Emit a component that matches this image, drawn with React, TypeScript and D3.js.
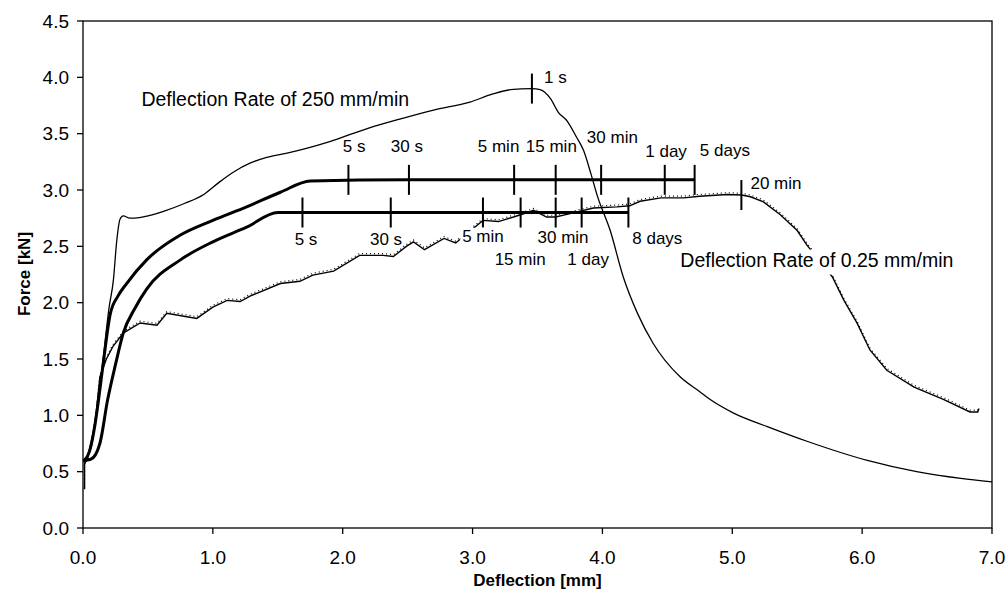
import React from 'react';
import * as d3 from 'd3';

// Deflection [mm], Force [kN]
const fastRate: [number, number][] = [
  [0.01, 0.56], [0.05, 0.7], [0.1, 1.0], [0.15, 1.45], [0.2, 1.95], [0.234, 2.2], [0.26, 2.55],
  [0.285, 2.74], [0.31, 2.77], [0.36, 2.75], [0.4, 2.75], [0.5, 2.77], [0.62, 2.81], [0.78, 2.88],
  [0.93, 2.96], [1.05, 3.07], [1.16, 3.16], [1.29, 3.24], [1.415, 3.29], [1.58, 3.33], [1.72, 3.37],
  [1.9, 3.43], [2.2, 3.55], [2.44, 3.63], [2.7, 3.71], [2.98, 3.78], [3.15, 3.85], [3.29, 3.89],
  [3.457, 3.9], [3.52, 3.89], [3.6, 3.81], [3.66, 3.69], [3.73, 3.61], [3.8, 3.47], [3.855, 3.35],
  [3.91, 3.15], [3.96, 2.95], [4.06, 2.64], [4.16, 2.23], [4.27, 1.905], [4.39, 1.64], [4.6, 1.34],
  [4.75, 1.21], [4.83, 1.14], [5.01, 1.02], [5.27, 0.9], [5.575, 0.77], [6.04, 0.6], [6.42, 0.5],
  [6.76, 0.44], [7.0, 0.41],
];

const slowRate: [number, number][] = [
  [0.005, 0.35], [0.012, 0.35], [0.012, 0.58], [0.03, 0.6], [0.07, 0.75], [0.1, 1.0], [0.13, 1.34],
  [0.18, 1.5], [0.23, 1.61], [0.31, 1.73], [0.44, 1.82], [0.57, 1.8], [0.645, 1.905], [0.8, 1.875],
  [0.876, 1.86], [1.0, 1.96], [1.11, 2.02], [1.21, 2.01], [1.29, 2.06], [1.52, 2.17], [1.67, 2.19],
  [1.77, 2.245], [1.93, 2.28], [2.13, 2.42], [2.31, 2.42], [2.39, 2.41], [2.49, 2.5], [2.545, 2.54],
  [2.63, 2.47], [2.78, 2.57], [2.87, 2.53], [3.08, 2.73], [3.2, 2.72], [3.37, 2.78], [3.47, 2.82],
  [3.57, 2.76], [3.64, 2.76], [3.75, 2.79], [3.93, 2.84], [4.11, 2.85], [4.21, 2.86], [4.29, 2.9],
  [4.45, 2.93], [4.625, 2.93], [4.75, 2.945], [4.96, 2.96], [5.07, 2.955], [5.14, 2.94], [5.24, 2.895],
  [5.37, 2.78], [5.5, 2.64], [5.575, 2.51], [5.77, 2.23], [5.86, 2.02], [5.96, 1.82], [6.06, 1.58],
  [6.19, 1.4], [6.4, 1.25], [6.63, 1.14], [6.83, 1.03], [6.89, 1.03], [6.9, 1.06],
];

const relaxUpper: [number, number][] = [
  [0.01, 0.6], [0.05, 0.68], [0.09, 0.9], [0.12, 1.14], [0.16, 1.5], [0.21, 1.9], [0.27, 2.06],
  [0.336, 2.17], [0.49, 2.38], [0.75, 2.6], [1.0, 2.73], [1.26, 2.85], [1.52, 2.98], [1.75, 3.08],
  [2.5, 3.09], [4.71, 3.09],
];

const relaxLower: [number, number][] = [
  [0.0, 0.6], [0.06, 0.61], [0.13, 0.75], [0.19, 1.14], [0.25, 1.45], [0.31, 1.73], [0.4, 1.95],
  [0.49, 2.12], [0.75, 2.38], [1.0, 2.54], [1.26, 2.67], [1.5, 2.8], [4.2, 2.8],
];

// time marks on the curves: [deflection, force]
const upperMarks: [number, number][] = [[2.044, 3.09], [2.51, 3.09], [3.32, 3.09], [3.64, 3.09], [3.99, 3.09], [4.48, 3.09], [4.71, 3.09]];
const lowerMarks: [number, number][] = [[1.69, 2.8], [2.37, 2.8], [3.08, 2.8], [3.37, 2.8], [3.64, 2.8], [3.84, 2.8], [4.2, 2.8]];
const peakMarks: [number, number][] = [[3.457, 3.9], [5.07, 2.955]];

// annotation text, anchored at [deflection, force] (left edge, baseline)
const upperLabels: [string, number, number][] = [
  ['5 s', 2.0, 3.34], ['30 s', 2.37, 3.34], ['5 min', 3.04, 3.34], ['15 min', 3.41, 3.34],
  ['30 min', 3.88, 3.42], ['1 day', 4.33, 3.29], ['5 days', 4.75, 3.3],
];
const lowerLabels: [string, number, number][] = [
  ['5 s', 1.63, 2.51], ['30 s', 2.21, 2.51], ['5 min', 2.92, 2.54], ['30 min', 3.5, 2.53],
  ['15 min', 3.17, 2.33], ['1 day', 3.73, 2.33], ['8 days', 4.23, 2.52], ['20 min', 5.14, 3.01],
  ['1 s', 3.55, 3.95],
];
const rateLabels: [string, number, number][] = [
  ['Deflection Rate of 250 mm/min', 0.45, 3.75],
  ['Deflection Rate of 0.25 mm/min', 4.6, 2.32],
];

const xTicks = [0, 1, 2, 3, 4, 5, 6, 7];
const yTicks = [0, 0.5, 1, 1.5, 2, 2.5, 3, 3.5, 4, 4.5];

const W = 1008;
const H = 601;
const left = 83;
const right = 992;
const top = 21;
const bottom = 528;
const font = 'Liberation Sans, Arial, Helvetica, sans-serif';

export default function App() {
  const x = d3.scaleLinear().domain([0, 7]).range([left, right]);
  const y = d3.scaleLinear().domain([0, 4.5]).range([bottom, top]);
  const smooth = d3.line<[number, number]>().x(d => x(d[0])).y(d => y(d[1])).curve(d3.curveMonotoneX);
  const rough = d3.line<[number, number]>().x(d => x(d[0])).y(d => y(d[1]));
  const tickHalf = 15;

  const mark = (d: [number, number], i: number) => (
    <line key={i} x1={x(d[0])} x2={x(d[0])} y1={y(d[1]) - tickHalf} y2={y(d[1]) + tickHalf}
      stroke="#000" strokeWidth={2} />
  );

  const smallLabel = (d: [string, number, number], i: number, masked = false) => (
    <g key={i}>
      {masked && (
        <rect x={x(d[1]) - 2} y={y(d[2]) - 14} width={d[0].length * 8.8 + 4} height={18} fill="#fff" />
      )}
      <text x={x(d[1])} y={y(d[2])} fontSize={17}>{d[0]}</text>
    </g>
  );

  return (
    <svg width={W} height={H} style={{ position: 'absolute', left: 0, top: 0, background: '#fff' }}
      fontFamily={font} fill="#000">
      <rect x={0} y={0} width={W} height={H} fill="#fff" />

      {/* curves */}
      <path d={smooth(fastRate) || ''} fill="none" stroke="#000" strokeWidth={1.3} />
      <path d={rough(slowRate) || ''} fill="none" stroke="#000" strokeWidth={1.4} />
      <path d={rough(slowRate) || ''} fill="none" stroke="#000" strokeWidth={1.2}
        strokeDasharray="1 3" transform="translate(0,-1.8)" />
      <path d={smooth(relaxUpper) || ''} fill="none" stroke="#000" strokeWidth={3} strokeLinejoin="round" />
      <path d={smooth(relaxLower) || ''} fill="none" stroke="#000" strokeWidth={3} strokeLinejoin="round" />

      {upperMarks.map(mark)}
      {lowerMarks.map(mark)}
      {peakMarks.map(mark)}

      {/* annotations */}
      {upperLabels.map((d, i) => smallLabel(d, i))}
      {lowerLabels.map((d, i) => smallLabel(d, i, d[0] === '5 min'))}
      {rateLabels.map((d, i) => (
        <g key={i}>
          {i === 1 && <rect x={x(d[1]) - 3} y={y(d[2]) - 17} width={282} height={25} fill="#fff" />}
          <text x={x(d[1])} y={y(d[2])} fontSize={19.5}>{d[0]}</text>
        </g>
      ))}

      {/* frame */}
      <rect x={left} y={top} width={right - left} height={bottom - top} fill="none" stroke="#000" strokeWidth={1.3} />

      {/* y axis */}
      {yTicks.map(t => (
        <g key={t}>
          <line x1={left - 6} x2={left} y1={y(t)} y2={y(t)} stroke="#000" strokeWidth={1.3} />
          <text x={left - 14} y={y(t)} dy="0.35em" textAnchor="end" fontSize={19}>{t.toFixed(1)}</text>
        </g>
      ))}
      {/* x axis */}
      {xTicks.map(t => (
        <g key={t}>
          <line x1={x(t)} x2={x(t)} y1={bottom} y2={bottom + 6} stroke="#000" strokeWidth={1.3} />
          <text x={x(t)} y={bottom + 36} textAnchor="middle" fontSize={19}>{t.toFixed(1)}</text>
        </g>
      ))}

      <text x={(left + right) / 2} y={586} textAnchor="middle" fontSize={17} fontWeight="bold">Deflection [mm]</text>
      <text transform={`translate(30,274) rotate(-90)`} textAnchor="middle" fontSize={17}
        fontWeight="bold">Force [kN]</text>
    </svg>
  );
}
